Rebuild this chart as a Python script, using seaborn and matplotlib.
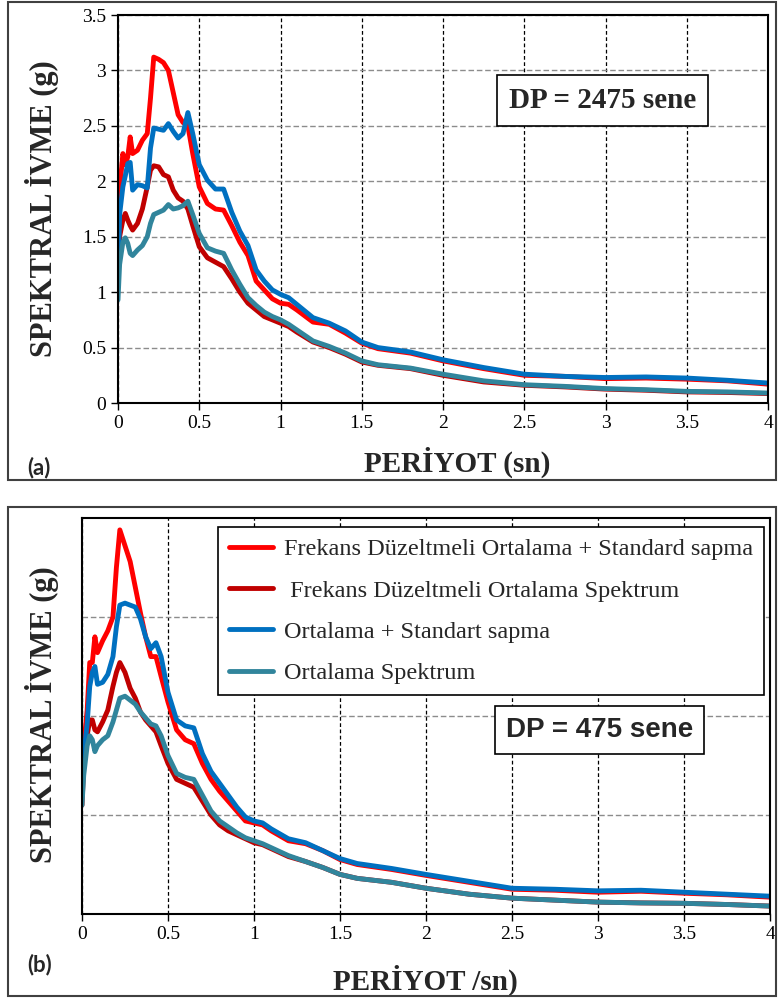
import matplotlib.pyplot as plt
import seaborn as sns
import numpy as np
import pandas as pd
from matplotlib.patches import Rectangle

# periyot (sn) - iki panel icin ortak
periyot = [0, 0.01, 0.03, 0.045, 0.06, 0.075, 0.09, 0.12, 0.15, 0.18, 0.2, 0.22,
           0.25, 0.28, 0.31, 0.34, 0.37, 0.4, 0.43, 0.46, 0.5, 0.55, 0.6, 0.65,
           0.7, 0.75, 0.8, 0.85, 0.9, 0.95, 1.0, 1.05, 1.1, 1.2, 1.3, 1.4, 1.5,
           1.6, 1.8, 2.0, 2.25, 2.5, 2.75, 3.0, 3.25, 3.5, 3.75, 4.0]

seriler = ["Frekans Düzeltmeli Ortalama + Standard sapma",
           " Frekans Düzeltmeli Ortalama Spektrum",
           "Ortalama + Standart sapma",
           "Ortalama Spektrum"]
renkler = ["#FF0000", "#C00000", "#0070C0", "#31859C"]

# (a) DP = 2475 sene
a_fd_std = [1.2, 1.92, 2.25, 2.15, 2.22, 2.4, 2.25, 2.28, 2.37, 2.43, 2.75, 3.12,
            3.1, 3.07, 3.0, 2.8, 2.6, 2.53, 2.5, 2.25, 1.95, 1.8, 1.75, 1.74,
            1.6, 1.45, 1.33, 1.1, 1.02, 0.94, 0.9, 0.89, 0.84, 0.73, 0.71, 0.63, 0.54,
            0.49, 0.45, 0.38, 0.31, 0.25, 0.24, 0.22, 0.225, 0.215, 0.2, 0.17]
a_fd_ort = [1.05, 1.5, 1.65, 1.71, 1.65, 1.6, 1.56, 1.62, 1.75, 1.95, 2.1, 2.14,
            2.13, 2.06, 2.04, 1.92, 1.85, 1.82, 1.75, 1.6, 1.41, 1.31, 1.27, 1.23,
            1.12, 1.0, 0.9, 0.84, 0.78, 0.75, 0.72, 0.69, 0.64, 0.55, 0.5, 0.44, 0.37,
            0.34, 0.31, 0.25, 0.19, 0.16, 0.145, 0.125, 0.115, 0.1, 0.095, 0.085]
a_ort_std = [1.1, 1.7, 1.95, 2.05, 2.16, 2.17, 1.92, 1.97, 1.96, 1.94, 2.3, 2.48,
             2.47, 2.46, 2.52, 2.45, 2.39, 2.43, 2.62, 2.43, 2.15, 2.01, 1.93, 1.93,
             1.72, 1.55, 1.42, 1.2, 1.1, 1.02, 0.98, 0.95, 0.89, 0.77, 0.72, 0.65, 0.55,
             0.5, 0.46, 0.39, 0.32, 0.26, 0.24, 0.23, 0.235, 0.225, 0.205, 0.18]
a_ort = [0.93, 1.25, 1.45, 1.49, 1.44, 1.35, 1.33, 1.38, 1.42, 1.5, 1.62, 1.7,
         1.72, 1.74, 1.79, 1.75, 1.76, 1.78, 1.82, 1.7, 1.53, 1.4, 1.37, 1.35,
         1.2, 1.07, 0.95, 0.88, 0.82, 0.78, 0.75, 0.71, 0.66, 0.56, 0.51, 0.45, 0.38,
         0.345, 0.315, 0.26, 0.2, 0.165, 0.15, 0.13, 0.12, 0.105, 0.1, 0.09]

# (b) DP = 475 sene
b_fd_std = [0.6, 0.85, 1.03, 1.27, 1.27, 1.4, 1.32, 1.38, 1.43, 1.5, 1.75, 1.94,
            1.86, 1.78, 1.65, 1.52, 1.4, 1.3, 1.3, 1.2, 1.07, 0.93, 0.88, 0.86,
            0.76, 0.68, 0.62, 0.57, 0.52, 0.47, 0.46, 0.45, 0.42, 0.37, 0.355, 0.32, 0.275,
            0.25, 0.225, 0.195, 0.16, 0.125, 0.12, 0.11, 0.115, 0.105, 0.097, 0.085]
b_fd_ort = [0.55, 0.75, 0.9, 0.98, 0.98, 0.93, 0.92, 0.97, 1.03, 1.15, 1.22, 1.27,
            1.22, 1.14, 1.09, 1.02, 0.98, 0.95, 0.92, 0.85, 0.76, 0.68, 0.66, 0.64,
            0.57, 0.5, 0.45, 0.42, 0.4, 0.38, 0.36, 0.35, 0.33, 0.29, 0.265, 0.235, 0.2,
            0.18, 0.16, 0.13, 0.1, 0.08, 0.07, 0.06, 0.056, 0.054, 0.048, 0.04]
b_ort_std = [0.65, 0.8, 0.96, 1.15, 1.22, 1.25, 1.16, 1.17, 1.21, 1.3, 1.45, 1.56,
             1.57, 1.56, 1.55, 1.49, 1.4, 1.34, 1.37, 1.3, 1.12, 0.98, 0.95, 0.94,
             0.81, 0.72, 0.66, 0.6, 0.54, 0.49, 0.47, 0.46, 0.43, 0.38, 0.36, 0.32, 0.28,
             0.255, 0.23, 0.2, 0.165, 0.13, 0.125, 0.117, 0.12, 0.11, 0.1, 0.09]
b_ort = [0.55, 0.7, 0.85, 0.9, 0.88, 0.82, 0.85, 0.88, 0.9, 0.97, 1.03, 1.09,
         1.1, 1.08, 1.06, 1.02, 0.99, 0.96, 0.95, 0.9, 0.8, 0.71, 0.69, 0.68,
         0.6, 0.52, 0.47, 0.44, 0.41, 0.385, 0.37, 0.355, 0.335, 0.295, 0.265, 0.235, 0.2,
         0.18, 0.16, 0.13, 0.1, 0.08, 0.07, 0.06, 0.056, 0.054, 0.048, 0.04]

x_etiket = ["0", "0.5", "1", "1.5", "2", "2.5", "3", "3.5", "4"]


def uzun_tablo(degerler):
    parcalar = []
    for ad, v in zip(seriler, degerler):
        parcalar.append(pd.DataFrame({"T": periyot, "Sa": v, "seri": ad}))
    return pd.concat(parcalar, ignore_index=True)


def panel(ax, df, ymax):
    sns.lineplot(data=df, x="T", y="Sa", hue="seri", hue_order=seriler,
                 palette=renkler, lw=3.5, estimator=None, sort=False,
                 legend=False, ax=ax)
    for ln in ax.lines:
        ln.set_solid_joinstyle("round")
        ln.set_solid_capstyle("round")
    ax.set_xlim(0, 4)
    ax.set_ylim(0, ymax)
    ax.set_xticks(np.arange(0, 4.01, 0.5))
    ax.set_xticklabels(x_etiket, family="serif")
    ax.set_axisbelow(True)
    ax.grid(axis="x", color="black", linestyle=(0, (3, 2)), lw=0.9)
    ax.grid(axis="y", color="#8c8c8c", linestyle=(0, (4, 2)), lw=1.0)
    for s in ax.spines.values():
        s.set_visible(True)
        s.set_color("black")
        s.set_linewidth(1.5)
    ax.tick_params(axis="both", direction="out", length=5, width=1.0,
                   labelsize=14, colors="black")


sns.set_style("ticks")
plt.rcParams["font.family"] = "serif"
plt.rcParams["font.serif"] = ["Liberation Serif", "DejaVu Serif"]

fig = plt.figure(figsize=(7.79, 9.99), dpi=100)

# cerceveler
fig.patches.append(Rectangle((8 / 779, 519 / 999), 768 / 779, 478 / 999,
                             transform=fig.transFigure, fill=False,
                             ec="#404040", lw=1.5))
fig.patches.append(Rectangle((8 / 779, 3 / 999), 768 / 779, 489 / 999,
                             transform=fig.transFigure, fill=False,
                             ec="#404040", lw=1.5))

# (a)
ax1 = fig.add_axes([118 / 779, 596 / 999, 650 / 779, 388 / 999])
panel(ax1, uzun_tablo([a_fd_std, a_fd_ort, a_ort_std, a_ort]), 3.5)
ax1.set_yticks(np.arange(0, 3.51, 0.5))
ax1.set_yticklabels(["0", "0.5", "1", "1.5", "2", "2.5", "3", "3.5"], family="serif")
ax1.set_xlabel("PERİYOT (sn)", fontsize=21, fontweight="bold")
ax1.set_ylabel("SPEKTRAL İVME (g)", fontsize=22, fontweight="bold")
ax1.xaxis.set_label_coords((457 - 118) / 650, -(462 - 403) / 388)
ax1.xaxis.label.set_va("center")
ax1.yaxis.set_label_coords(-(118 - 42) / 650, 0.5)
ax1.yaxis.label.set_va("center")
ax1.text(2.98, 2.73, "DP = 2475 sene", fontsize=21, fontweight="bold",
         ha="center", va="center",
         bbox=dict(boxstyle="square,pad=0.4", fc="white", ec="black", lw=1.2))

# (b)
ax2 = fig.add_axes([82 / 779, 85 / 999, 688 / 779, 396 / 999])
panel(ax2, uzun_tablo([b_fd_std, b_fd_ort, b_ort_std, b_ort]), 2.0)
ax2.set_yticks([0.5, 1.0, 1.5])
ax2.set_yticklabels([])
ax2.tick_params(axis="y", length=0)
ax2.set_xlabel("PERİYOT /sn)", fontsize=21, fontweight="bold")
ax2.set_ylabel("SPEKTRAL İVME (g)", fontsize=22, fontweight="bold")
ax2.xaxis.set_label_coords((425 - 82) / 688, -(980 - 914) / 396)
ax2.xaxis.label.set_va("center")
ax2.yaxis.set_label_coords(-(82 - 42) / 688, (914 - 715) / 396)
ax2.yaxis.label.set_va("center")
ax2.text(3.01, 0.93, "DP = 475 sene", fontsize=20, fontweight="bold",
         family=["Liberation Sans", "DejaVu Sans"], ha="center", va="center",
         bbox=dict(boxstyle="square,pad=0.4", fc="white", ec="black", lw=1.2))
leg = ax2.legend(ax2.lines[:4], seriler, loc="upper right",
                 bbox_to_anchor=(0.991, 0.977), borderaxespad=0,
                 prop={"family": "serif", "size": 17.5},
                 fancybox=False, framealpha=1, edgecolor="black",
                 handlelength=1.8, handletextpad=0.45, labelspacing=0.8,
                 borderpad=0.45)
leg.get_frame().set_linewidth(1.2)

fig.text(27 / 779, 1 - 468 / 999, "(a)", fontsize=16, fontweight="bold",
         family=["Lato", "DejaVu Sans"], ha="left", va="center")
fig.text(27 / 779, 1 - 965 / 999, "(b)", fontsize=16, fontweight="bold",
         family=["Lato", "DejaVu Sans"], ha="left", va="center")

fig.savefig("out.png", dpi=100)
